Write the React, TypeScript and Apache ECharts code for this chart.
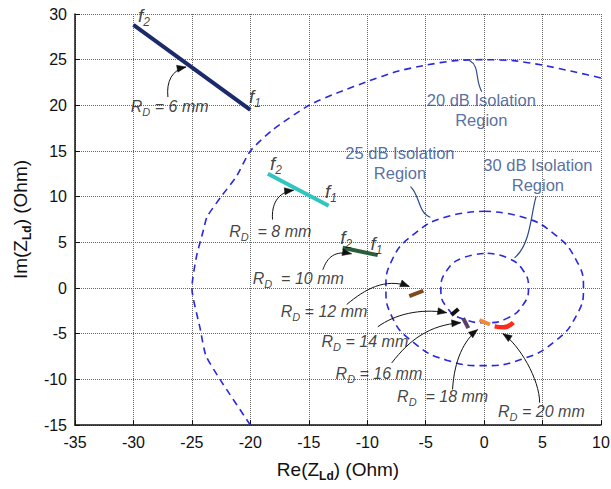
import React, { useEffect, useRef } from "react";
import * as echarts from "echarts";

// ---- data ----
const isolation20X = [-20, -22.6, -23.8, -24.3, -25, -24.6, -24, -23.7, -22.5, -21.2, -20, -18.1, -15, -12.3, -10, -7.5, -5, -2.5, 0, 2.5, 5, 7.6, 10];
const isolation20Y = [-15, -10, -7.4, -4.4, 0, 3.5, 6.4, 7.8, 10, 12.2, 15, 17.3, 20, 21.5, 22.6, 23.7, 24.4, 24.9, 25, 24.9, 24.4, 23.7, 23.0];

const isolation25X = [0, 3.2, 6, 7.9, 8.5, 7.9, 6, 3.2, 0, -3.2, -6, -7.9, -8.4, -7.9, -6, -3.2, 0];
const isolation25Y = [8.4, 7.8, 5.9, 3, 0, -3, -5.9, -7.8, -8.5, -7.9, -6, -3.1, 0, 3, 5.9, 7.8, 8.4];

const isolation30X = [0.3, 2, 3.3, 3.8, 3.3, 2, 0.2, -1.8, -3.2, -3.7, -3.2, -1.8, 0.3];
const isolation30Y = [3.8, 3.3, 2, 0, -1.9, -3.3, -3.8, -3.4, -2.1, -0.2, 1.9, 3.3, 3.8];

const rdNames = ["6", "8", "10", "12", "14", "16", "18", "20"];
const rdColors = ["#1b2a6b", "#2fc6c0", "#2a5e3a", "#7b4a1f", "#111111", "#5c3d6b", "#f28a3a", "#ff2a1a"];
const rdTraceX = [
  [-30, -20],
  [-18.5, -13.3],
  [-12.1, -9.1],
  [-6.4, -5.2],
  [-2.8, -2.2],
  [-1.8, -1.35],
  [-0.4, 0.5],
  [0.9, 1.65, 2.5],
];
const rdTraceY = [
  [28.8, 19.5],
  [12.5, 9.0],
  [4.4, 3.6],
  [-0.9, -0.3],
  [-2.95, -2.3],
  [-3.3, -4.4],
  [-3.5, -4.0],
  [-4.2, -4.3, -3.8],
];

const rdLabelX = [-26.9, -18.3, -15.9, -13.7, -10.2, -9.0, -3.55, 4.9];
const rdLabelY = [20.0, 6.4, 1.2, -2.4, -5.7, -9.2, -11.7, -13.4];
const rdLabelWide = [false, true, true, false, false, false, true, false];

const fNames = ["2", "1", "2", "1", "2", "1"];
const fX = [-29.1, -19.6, -17.8, -13.1, -11.8, -9.2];
const fY = [29.9, 21.1, 13.7, 10.7, 5.6, 5.0];

const regionNames = ["20 dB Isolation", "25 dB Isolation", "30 dB Isolation"];
const regionX = [-0.24, -7.2, 4.6];
const regionY = [19.5, 13.7, 12.4];

// arrows: start, control1, control2, end (data coords)
const arrowCurves = [
  [-27.05, 20.9, -27.2, 22.6, -26.7, 23.9, -25.5, 24.2],
  [-18.1, 7.5, -18.2, 9.1, -17.7, 10.5, -16.3, 10.7],
  [-13.8, 2.0, -13.4, 3.4, -12.8, 4.1, -11.35, 3.75],
  [-11.75, -1.8, -10.2, -0.15, -8.5, 1.15, -6.4, 0.17],
  [-9.1, -4.25, -7.65, -2.9, -5.5, -2.2, -3.2, -2.7],
  [-7.9, -8.2, -6.4, -5.7, -4.7, -4.05, -2.0, -3.8],
  [-2.7, -11.1, -2.55, -7.85, -1.7, -5.7, -0.55, -4.55],
  [4.75, -12.55, 4.75, -10.0, 3.0, -6.2, 1.6, -5.0],
];
const connectorCurves = [
  [-0.2, 21.5, -0.8, 22.8, -0.35, 24.3, -1.25, 24.9],
  [-6.3, 11.1, -5.5, 10.2, -5.65, 8.2, -4.6, 7.75],
  [4.45, 10.0, 4.0, 8.2, 4.0, 4.75, 2.6, 3.3],
];

const xTicksMin = -35, xTicksMax = 10, yTicksMin = -15, yTicksMax = 30, tickStep = 5;

const FONT = "'Liberation Sans', Arial, sans-serif";
const REGION_COLOR = "#2b4a8a";
const DASH_COLOR = "#2828e0";

function zip(xs: number[], ys: number[]) {
  return xs.map((x, i) => [x, ys[i]]);
}

const richText = {
  r: { fontFamily: FONT, fontStyle: "italic", fontSize: 16, color: "#111", lineHeight: 19, verticalAlign: "bottom" },
  s: { fontFamily: FONT, fontStyle: "italic", fontSize: 11, color: "#111", lineHeight: 12, verticalAlign: "bottom", padding: [0, 0, -3, 0] },
  fr: { fontFamily: FONT, fontStyle: "italic", fontSize: 19, color: "#111", lineHeight: 21, verticalAlign: "bottom" },
  fs: { fontFamily: FONT, fontStyle: "italic", fontSize: 12, color: "#111", lineHeight: 13, verticalAlign: "bottom", padding: [0, 0, -3, 0] },
};

function makeCurveSeries(data: number[][], color: string, arrow: boolean, width: number) {
  return {
    type: "custom",
    silent: true,
    z: 5,
    data,
    encode: { x: [0, 2, 4, 6], y: [1, 3, 5, 7] },
    renderItem: (params: any, api: any) => {
      const p0 = api.coord([api.value(0), api.value(1)]);
      const p1 = api.coord([api.value(2), api.value(3)]);
      const p2 = api.coord([api.value(4), api.value(5)]);
      const p3 = api.coord([api.value(6), api.value(7)]);
      const children: any[] = [
        {
          type: "bezierCurve",
          shape: { x1: p0[0], y1: p0[1], cpx1: p1[0], cpy1: p1[1], cpx2: p2[0], cpy2: p2[1], x2: p3[0], y2: p3[1] },
          style: { stroke: color, lineWidth: width, fill: null },
        },
      ];
      if (arrow) {
        let dx = p3[0] - p2[0];
        let dy = p3[1] - p2[1];
        const len = Math.sqrt(dx * dx + dy * dy) || 1;
        dx /= len;
        dy /= len;
        const L = 9, W = 3.5;
        const bx = p3[0] - dx * L, by = p3[1] - dy * L;
        children.push({
          type: "polygon",
          shape: { points: [[p3[0], p3[1]], [bx - dy * W, by + dx * W], [bx + dy * W, by - dx * W]] },
          style: { fill: color, stroke: color, lineWidth: 0.5 },
        });
      }
      return { type: "group", children };
    },
  };
}

export default function App() {
  const ref = useRef<HTMLDivElement>(null);
  useEffect(() => {
    if (!ref.current) return;
    const chart = echarts.init(ref.current, null, { renderer: "svg" });

    const dashStyle = { color: DASH_COLOR, width: 1.6, type: [7, 5] as any };

    const traceSeries = rdNames.map((n, i) => ({
      type: "line",
      name: "RD " + n,
      data: zip(rdTraceX[i], rdTraceY[i]),
      symbol: "none",
      smooth: true,
      lineStyle: { color: rdColors[i], width: i === 7 ? 4.5 : 4 },
      z: 4,
    }));

    const labelData: any[] = [];
    rdNames.forEach((n, i) => {
      labelData.push({
        value: [rdLabelX[i], rdLabelY[i]],
        label: {
          formatter: "{r|R}{s|D}{r|" + (rdLabelWide[i] ? "  = " : " = ") + n + " mm}",
        },
      });
    });
    fNames.forEach((n, i) => {
      labelData.push({
        value: [fX[i], fY[i]],
        label: { formatter: "{fr|f}{fs|" + n + "}" },
      });
    });

    const regionData = regionNames.map((n, i) => ({
      value: [regionX[i], regionY[i]],
      label: { formatter: n + "\nRegion" },
    }));

    const gridLine = { show: true, lineStyle: { color: "#666666", type: "dotted" as any, width: 1 } };

    chart.setOption({
      animation: false,
      backgroundColor: "#ffffff",
      grid: { left: 75, right: 10, top: 14, bottom: 64, outerBoundsMode: "none" },
      xAxis: {
        type: "value",
        min: xTicksMin,
        max: xTicksMax,
        interval: tickStep,
        name: "{a|Re(Z}{b|Ld}{a|) (Ohm)}",
        nameLocation: "middle",
        nameGap: 32,
        nameTextStyle: {
          rich: {
            a: { fontFamily: FONT, fontSize: 19, color: "#111", lineHeight: 22, verticalAlign: "bottom" },
            b: { fontFamily: FONT, fontSize: 12, fontWeight: "bold", color: "#111", lineHeight: 14, verticalAlign: "bottom", padding: [0, 0, -3, 0] },
          },
        },
        axisLine: { show: true, onZero: false, lineStyle: { color: "#111", width: 1.5 } },
        axisTick: { show: true, inside: true, length: 5, lineStyle: { color: "#111" } },
        axisLabel: { color: "#111", fontFamily: FONT, fontSize: 16, margin: 9 },
        splitLine: gridLine,
      },
      yAxis: {
        type: "value",
        min: yTicksMin,
        max: yTicksMax,
        interval: tickStep,
        name: "{a|Im(Z}{b|Ld}{a|) (Ohm)}",
        nameLocation: "middle",
        nameGap: 45,
        nameRotate: 90,
        nameTextStyle: {
          rich: {
            a: { fontFamily: FONT, fontSize: 19, color: "#111", lineHeight: 22, verticalAlign: "bottom" },
            b: { fontFamily: FONT, fontSize: 12, fontWeight: "bold", color: "#111", lineHeight: 14, verticalAlign: "bottom", padding: [0, 0, -3, 0] },
          },
        },
        axisLine: { show: true, onZero: false, lineStyle: { color: "#111", width: 1.5 } },
        axisTick: { show: true, inside: true, length: 5, lineStyle: { color: "#111" } },
        axisLabel: { color: "#111", fontFamily: FONT, fontSize: 16, margin: 8 },
        splitLine: gridLine,
      },
      series: [
        { type: "line", name: "20 dB", data: zip(isolation20X, isolation20Y), symbol: "none", smooth: 0.2, lineStyle: dashStyle, z: 3 },
        { type: "line", name: "25 dB", data: zip(isolation25X, isolation25Y), symbol: "none", smooth: true, lineStyle: dashStyle, z: 3 },
        { type: "line", name: "30 dB", data: zip(isolation30X, isolation30Y), symbol: "none", smooth: true, lineStyle: dashStyle, z: 3 },
        ...traceSeries,
        makeCurveSeries(arrowCurves, "#111111", true, 1),
        makeCurveSeries(connectorCurves, REGION_COLOR, false, 1.2),
        {
          type: "scatter",
          symbolSize: 0,
          silent: true,
          z: 6,
          data: labelData,
          label: { show: true, position: "inside", rich: richText },
        },
        {
          type: "scatter",
          symbolSize: 0,
          silent: true,
          z: 6,
          data: regionData,
          label: {
            show: true,
            position: "inside",
            fontFamily: FONT,
            fontSize: 16.5,
            lineHeight: 20,
            color: REGION_COLOR,
            align: "center",
          },
        },
      ],
    } as any);
    return () => chart.dispose();
  }, []);
  return (
    <div
      ref={ref}
      style={{ position: "absolute", left: 0, top: 0, width: 611, height: 489, background: "#fff" }}
    />
  );
}
